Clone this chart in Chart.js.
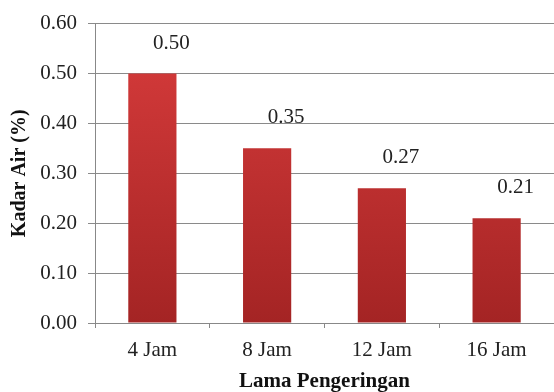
<!DOCTYPE html>
<html>
<head>
<meta charset="utf-8">
<script src="https://cdn.jsdelivr.net/npm/chart.js@4"></script>
<style>
  html, body { margin: 0; padding: 0; background: #fff; }
  #wrap { width: 554px; height: 392px; }
</style>
</head>
<body>
<div id="wrap"><canvas id="chart" width="554" height="392"></canvas></div>
<script>
const categories = ["4 Jam", "8 Jam", "12 Jam", "16 Jam"];
const kadarAir = [0.50, 0.35, 0.27, 0.21];
const yTicks = [0.00, 0.10, 0.20, 0.30, 0.40, 0.50, 0.60];

const serif = "'Liberation Serif', 'DejaVu Serif', serif";
var ctx = document.getElementById("chart").getContext("2d");

// bar fill: red, darker toward the bottom
function barFill(c) {
  var area = c.chart.chartArea;
  if (!area) return "#c93232";
  var g = c.chart.ctx.createLinearGradient(0, area.top, 0, area.bottom);
  g.addColorStop(0, "#d83c3c");
  g.addColorStop(1, "#a42424");
  return g;
}

// value labels, set up and right of each bar
const valueLabels = {
  id: "valueLabels",
  afterDatasetsDraw(chart) {
    var c = chart.ctx;
    var meta = chart.getDatasetMeta(0);
    c.save();
    c.font = "21px " + serif;
    c.fillStyle = "#222";
    c.textAlign = "center";
    c.textBaseline = "alphabetic";
    meta.data.forEach(function (bar, i) {
      c.fillText(kadarAir[i].toFixed(2), bar.x + 19, bar.y - 25);
    });
    c.restore();
  }
};

new Chart(ctx, {
  type: "bar",
  data: {
    labels: categories,
    datasets: [{
      label: "Kadar Air",
      data: kadarAir,
      backgroundColor: barFill,
      borderWidth: 0,
      categoryPercentage: 1,
      barPercentage: 0.42
    }]
  },
  options: {
    responsive: false,
    animation: false,
    layout: { padding: { top: 22, right: -3, left: 4, bottom: 0 } },
    plugins: { legend: { display: false }, tooltip: { enabled: false } },
    scales: {
      x: {
        afterFit: function (axis) { axis.height = 69; },
        grid: { offset: true, drawOnChartArea: false, color: "#888", tickLength: 5 },
        border: { color: "#888" },
        ticks: { font: { family: serif, size: 21 }, color: "#222", padding: 10 },
        title: { display: true, text: "Lama Pengeringan", font: { family: serif, size: 21, weight: "bold", lineHeight: 1 }, color: "#111", padding: { top: 0, bottom: 0 } }
      },
      y: {
        min: 0,
        max: 0.6,
        afterBuildTicks: function (axis) {
          axis.ticks = yTicks.map(function (v) { return { value: v }; });
        },
        afterFit: function (axis) { axis.width = 91; },
        grid: { color: "#8a8a8a", tickLength: 7 },
        border: { color: "#888" },
        ticks: {
          font: { family: serif, size: 21 }, color: "#222", padding: 11,
          callback: function (v) { return Number(v).toFixed(2); }
        },
        title: { display: true, text: "Kadar Air (%)", font: { family: serif, size: 20, weight: "bold" }, color: "#111", padding: { top: 4, bottom: 0 } }
      }
    }
  },
  plugins: [valueLabels]
});
</script>
</body>
</html>
